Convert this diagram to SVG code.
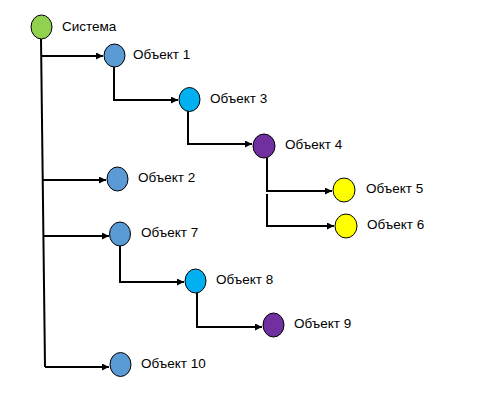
<svg xmlns="http://www.w3.org/2000/svg" width="479" height="405" viewBox="0 0 479 405">
<style>
.n{stroke:#000;stroke-width:1}
.c{fill:none;stroke:#000;stroke-width:2}
.a{marker-end:url(#ah)}
text{font-family:"Liberation Sans",Arial,sans-serif;font-size:13.5px;fill:#000}
.g{fill:#92D050}.b{fill:#5B9BD5}.cy{fill:#00B0F0}.p{fill:#7030A0}.y{fill:#FFFF00}
</style>
<defs>
<marker id="ah" markerWidth="8" markerHeight="8" refX="7" refY="3.5" orient="auto" markerUnits="userSpaceOnUse">
<path d="M0,0 L7,3.5 L0,7 Z" fill="#000"/>
</marker>
</defs>
<rect width="479" height="405" fill="#fff"/>
<g id="connectors">
<path class="c" d="M41,39 L45,367"/>
<path class="c a" d="M41,56 L103,56"/>
<path class="c a" d="M42,180 L106,180"/>
<path class="c a" d="M44,236 L109,236"/>
<path class="c a" d="M45,367 L109,367"/>
<path class="c a" d="M114,67 L114,100 L178,100"/>
<path class="c a" d="M188,111 L188,144 L252,144"/>
<path class="c a" d="M267,158 L267,191 L332,191"/>
<path class="c a" d="M267,194 L267,226 L334,226"/>
<path class="c a" d="M120,246 L120,282 L184,282"/>
<path class="c a" d="M197,293 L197,327 L262,327"/>
</g>
<g id="n0"><ellipse class="n g" cx="41.5" cy="27" rx="10.5" ry="12"/><text x="62" y="31">Система</text></g>
<g id="n1"><ellipse class="n b" cx="114.5" cy="55.5" rx="10.5" ry="11.5"/><text x="133" y="59">Объект 1</text></g>
<g id="n3"><ellipse class="n cy" cx="189.5" cy="99.5" rx="10.5" ry="12"/><text x="210" y="103">Объект 3</text></g>
<g id="n4"><ellipse class="n p" cx="264" cy="146" rx="11" ry="12"/><text x="285" y="149">Объект 4</text></g>
<g id="n5"><ellipse class="n y" cx="344" cy="190" rx="11" ry="12"/><text x="366" y="193">Объект 5</text></g>
<g id="n6"><ellipse class="n y" cx="346" cy="226" rx="11" ry="12"/><text x="367" y="229">Объект 6</text></g>
<g id="n2"><ellipse class="n b" cx="117.5" cy="179" rx="10.5" ry="12"/><text x="138" y="182">Объект 2</text></g>
<g id="n7"><ellipse class="n b" cx="120" cy="234" rx="10.5" ry="12"/><text x="141" y="237">Объект 7</text></g>
<g id="n8"><ellipse class="n cy" cx="195.5" cy="281" rx="10.5" ry="12"/><text x="216" y="284">Объект 8</text></g>
<g id="n9"><ellipse class="n p" cx="273.5" cy="325" rx="10.5" ry="12"/><text x="294" y="328">Объект 9</text></g>
<g id="n10"><ellipse class="n b" cx="120.5" cy="364.5" rx="10.5" ry="12"/><text x="141" y="368">Объект 10</text></g>
</svg>
